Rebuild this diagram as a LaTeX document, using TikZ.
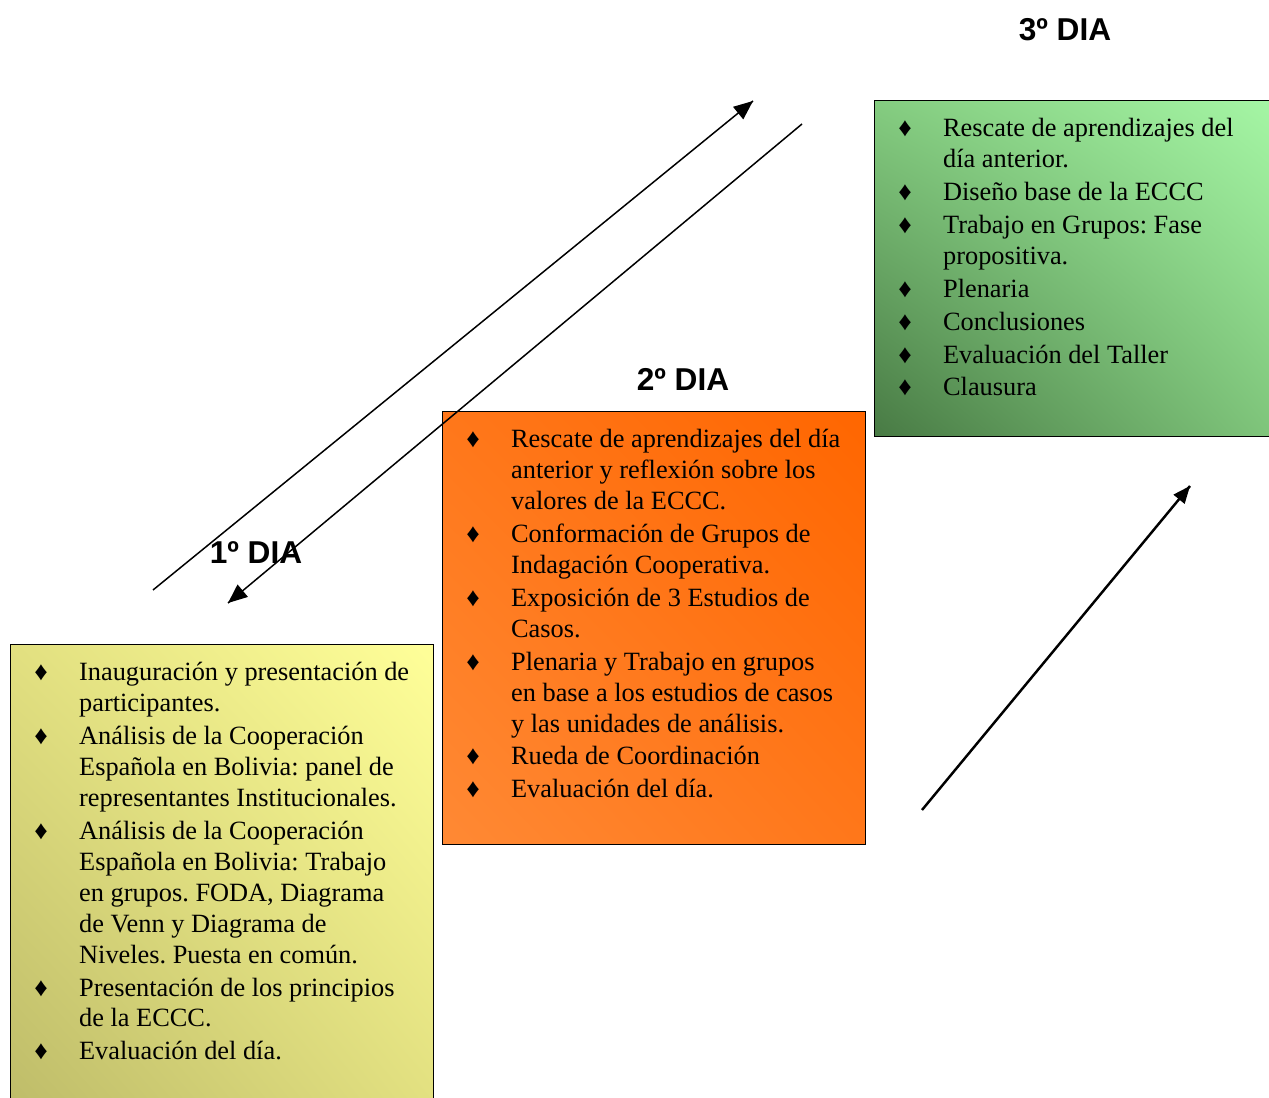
\documentclass[tikz,border=0pt]{standalone}
\usepackage{fontspec}
\setmainfont{Liberation Serif}
\newfontfamily\arialfont{Liberation Sans}
\usepackage{tikz}
\usetikzlibrary{arrows}
\usetikzlibrary{decorations.markings}
\usetikzlibrary{positioning}
\usetikzlibrary{shadings}
\definecolor{amarilloUR}{RGB}{255,255,153}
\definecolor{amarilloMid}{RGB}{226,224,128}
\definecolor{amarilloLL}{RGB}{190,188,105}
\definecolor{naranjaUR}{RGB}{255,102,0}
\definecolor{naranjaMid}{RGB}{255,119,26}
\definecolor{naranjaLL}{RGB}{255,137,52}
\definecolor{verdeUR}{RGB}{168,250,168}
\definecolor{verdeMid}{RGB}{132,204,128}
\definecolor{verdeLL}{RGB}{72,122,68}
\tikzset{flecha/.style = {decoration={markings,
                                      mark=at position 1 with {\arrow[scale=#1]{triangle 45}}},
                          postaction={decorate}},
         flecha/.default = 1.35}
\tikzset{caja/.style = {draw, line width=0.8pt, anchor=north west, inner sep=0,
                        minimum width=8.46cm}}
\tikzset{lista/.style = {inner sep=0, font=\fontsize{15}{17.6}\selectfont\frenchspacing}}
\tikzset{dia/.style = {font=\arialfont\bfseries\fontsize{18}{20}\selectfont}}
\newcommand{\rombo}{♦}
\newcommand{\sep}{\\[1.1pt]}

\begin{document}
\begin{tikzpicture}[x=0.02cm, y=-0.02cm]
      \clip (0, 0) rectangle (1269, 1098);
      % cajas
      \node [caja, minimum height=9.3cm, upper right=amarilloUR, lower left=amarilloLL,
             upper left=amarilloMid, lower right=amarilloMid] (caja1) at (10, 644) {};
      \node [caja, minimum height=8.66cm, upper right=naranjaUR, lower left=naranjaLL,
             upper left=naranjaMid, lower right=naranjaMid] (caja2) at (442, 411) {};
      \node [caja, minimum width=8.7cm, minimum height=6.72cm, upper right=verdeUR,
             lower left=verdeLL, upper left=verdeMid, lower right=verdeMid] (caja3) at (874, 100) {};
      % textos
      \node [lista, below right=0.3cm and 0.48cm of caja1.north west] (lista1) {%
        \begin{tabular}{@{}p{25.5pt}@{}l@{}}
          \rombo & Inauguración y presentación de\\
                 & participantes.\sep
          \rombo & Análisis de la Cooperación\\
                 & Española en Bolivia: panel de\\
                 & representantes Institucionales.\sep
          \rombo & Análisis de la Cooperación\\
                 & Española en Bolivia: Trabajo\\
                 & en grupos. FODA, Diagrama\\
                 & de Venn y Diagrama de\\
                 & Niveles. Puesta en común.\sep
          \rombo & Presentación de los principios\\
                 & de la ECCC.\sep
          \rombo & Evaluación del día.
        \end{tabular}};
      \node [lista, below right=0.3cm and 0.48cm of caja2.north west] (lista2) {%
        \begin{tabular}{@{}p{25.5pt}@{}l@{}}
          \rombo & Rescate de aprendizajes del día\\
                 & anterior y reflexión sobre los\\
                 & valores de la ECCC.\sep
          \rombo & Conformación de Grupos de\\
                 & Indagación Cooperativa.\sep
          \rombo & Exposición de 3 Estudios de\\
                 & Casos.\sep
          \rombo & Plenaria y Trabajo en grupos\\
                 & en base a los estudios de casos\\
                 & y las unidades de análisis.\sep
          \rombo & Rueda de Coordinación\sep
          \rombo & Evaluación del día.
        \end{tabular}};
      \node [lista, below right=0.3cm and 0.48cm of caja3.north west] (lista3) {%
        \begin{tabular}{@{}p{25.5pt}@{}l@{}}
          \rombo & Rescate de aprendizajes del\\
                 & día anterior.\sep
          \rombo & Diseño base de la ECCC\sep
          \rombo & Trabajo en Grupos: Fase\\
                 & propositiva.\sep
          \rombo & Plenaria\sep
          \rombo & Conclusiones\sep
          \rombo & Evaluación del Taller\sep
          \rombo & Clausura
        \end{tabular}};
      % titulos
      \node [dia] (dia1) at (256, 553) {1º DIA};
      \node [dia] (dia2) at (683, 379) {2º DIA};
      \node [dia] (dia3) at (1065, 30) {3º DIA};
      % flechas
      \coordinate (ida1) at (153, 590);
      \coordinate (ida2) at (753, 101);
      \coordinate (vuelta1) at (802, 124);
      \coordinate (vuelta2) at (228, 603);
      \coordinate (sube1) at (922, 810);
      \coordinate (sube2) at (1190, 486);
      \draw [flecha, line width=0.85pt] (ida1) -- (ida2);
      \draw [flecha, line width=0.85pt] (vuelta1) -- (vuelta2);
      \draw [flecha=0.95, line width=1.4pt] (sube1) -- (sube2);
    \end{tikzpicture}
\end{document}
